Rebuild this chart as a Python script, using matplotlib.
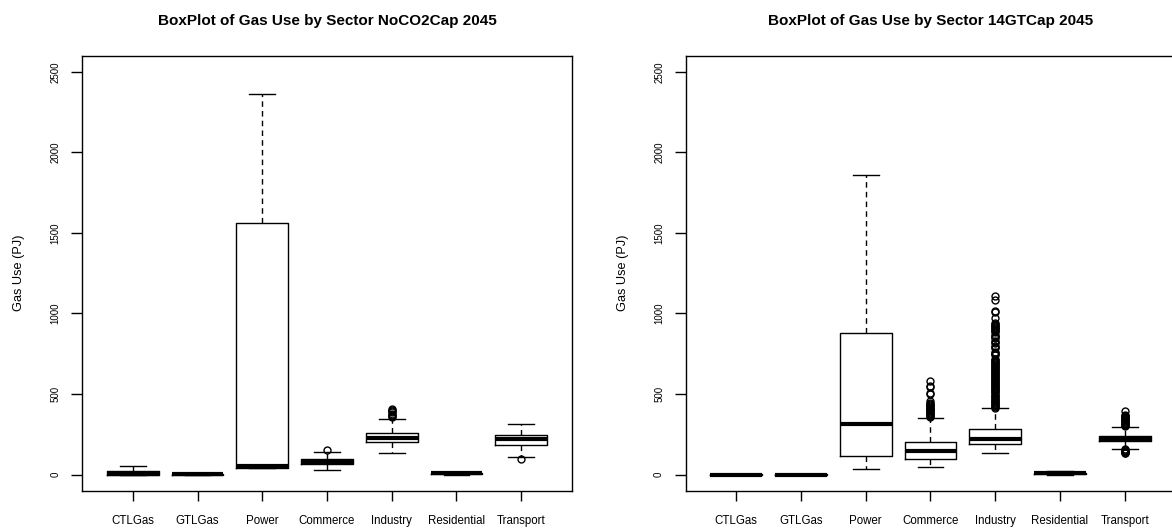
import matplotlib
matplotlib.use("Agg")
import matplotlib.pyplot as plt

plt.rcParams['font.family'] = ['Liberation Sans', 'DejaVu Sans']

sectors = ["CTLGas", "GTLGas", "Power", "Commerce", "Industry", "Residential", "Transport"]
yticks = [0, 500, 1000, 1500, 2000, 2500]

# NoCO2Cap 2045
noco2_lo = [0, 0, 38, 31, 132, 0, 107]
noco2_q1 = [0, 0, 40, 68, 200, 5, 186]
noco2_med = [3, 1, 52, 81, 227, 8, 219]
noco2_q3 = [25, 3, 1563, 95, 256, 11, 248]
noco2_hi = [55, 5, 2365, 140, 348, 18, 312]
noco2_fliers = [
    [],
    [],
    [],
    [150],
    [355, 362, 370, 378, 386, 394, 402, 410],
    [],
    [94],
]

# 14GTCap 2045
gt14_lo = [0, 0, 37, 45, 132, 0, 161]
gt14_q1 = [0, 0, 116, 99, 193, 5, 207]
gt14_med = [0, 0, 312, 147, 224, 8, 224]
gt14_q3 = [2, 2, 880, 202, 280, 11, 240]
gt14_hi = [3, 3, 1858, 350, 412, 20, 296]
gt14_fliers = [
    [],
    [],
    [],
    [356, 362, 368, 374, 380, 386, 392, 398, 404, 410, 416, 422, 428, 434,
     440, 446, 458, 500, 506, 545, 552, 578],
    [415, 421, 428, 434, 440, 447, 453, 459, 466, 472, 478, 485, 491, 497,
     504, 510, 516, 523, 529, 535, 542, 548, 554, 561, 567, 573, 580, 586,
     592, 599, 605, 611, 618, 624, 630, 637, 643, 649, 656, 662, 668, 675,
     681, 687, 694, 700, 706, 712, 718, 740, 746, 752, 758, 784, 790, 796,
     815, 821, 827, 846, 852, 858, 864, 888, 894, 900, 906, 912, 918, 924,
     930, 936, 942, 972, 1008, 1014, 1085, 1108],
    [],
    [132, 136, 140, 144, 148, 153, 158, 301, 306, 311, 316, 321, 326, 331,
     336, 341, 346, 351, 356, 361, 366, 372, 396],
]


def make_stats(lo, q1, med, q3, hi, fliers):
    stats = []
    for i in range(len(sectors)):
        stats.append(dict(whislo=lo[i], q1=q1[i], med=med[i], q3=q3[i],
                          whishi=hi[i], fliers=fliers[i], label=sectors[i]))
    return stats


def draw_panel(ax, stats, title):
    pos = list(range(1, len(sectors) + 1))
    ax.bxp(stats, positions=pos, widths=0.8, capwidths=0.4,
           boxprops=dict(color="black", linewidth=1.0),
           whiskerprops=dict(color="black", linewidth=1.0, linestyle=(0, (4, 3))),
           capprops=dict(color="black", linewidth=1.0),
           medianprops=dict(color="black", linewidth=3.0, solid_capstyle="butt"),
           flierprops=dict(marker="o", markerfacecolor="none", markeredgecolor="black",
                           markersize=5.0, markeredgewidth=1.0, linestyle="none"))
    ax.set_xlim(0.22, 7.78)
    ax.set_ylim(-100, 2600)
    ax.set_xticks(pos)
    ax.set_xticklabels(sectors, fontsize=8.3)
    ax.set_yticks(yticks)
    ax.set_yticklabels([str(v) for v in yticks], rotation=90, va="center",
                       fontsize=7, family=['Liberation Sans Narrow', 'Liberation Sans'])
    ax.tick_params(axis="x", length=7, width=1, pad=10.5, color="black")
    ax.tick_params(axis="y", length=7.6, width=1, pad=8, color="black")
    for s in ax.spines.values():
        s.set_linewidth(1.0)
        s.set_color("black")
    ax.text(-0.129, 0.5, "Gas Use (PJ)", transform=ax.transAxes, rotation=90,
            ha="center", va="center", fontsize=9.2)
    ax.set_title(title, fontsize=11, fontweight="bold", pad=21.8)


fig = plt.figure(figsize=(11.72, 5.28), dpi=100)
ax1 = fig.add_axes([0.0702, 0.0706, 0.4176, 0.8239])
ax2 = fig.add_axes([0.5851, 0.0706, 0.4176, 0.8239])

draw_panel(ax1, make_stats(noco2_lo, noco2_q1, noco2_med, noco2_q3, noco2_hi, noco2_fliers),
           "BoxPlot of Gas Use by Sector NoCO2Cap 2045")
draw_panel(ax2, make_stats(gt14_lo, gt14_q1, gt14_med, gt14_q3, gt14_hi, gt14_fliers),
           "BoxPlot of Gas Use by Sector 14GTCap 2045")

fig.savefig("out.png", dpi=100)
